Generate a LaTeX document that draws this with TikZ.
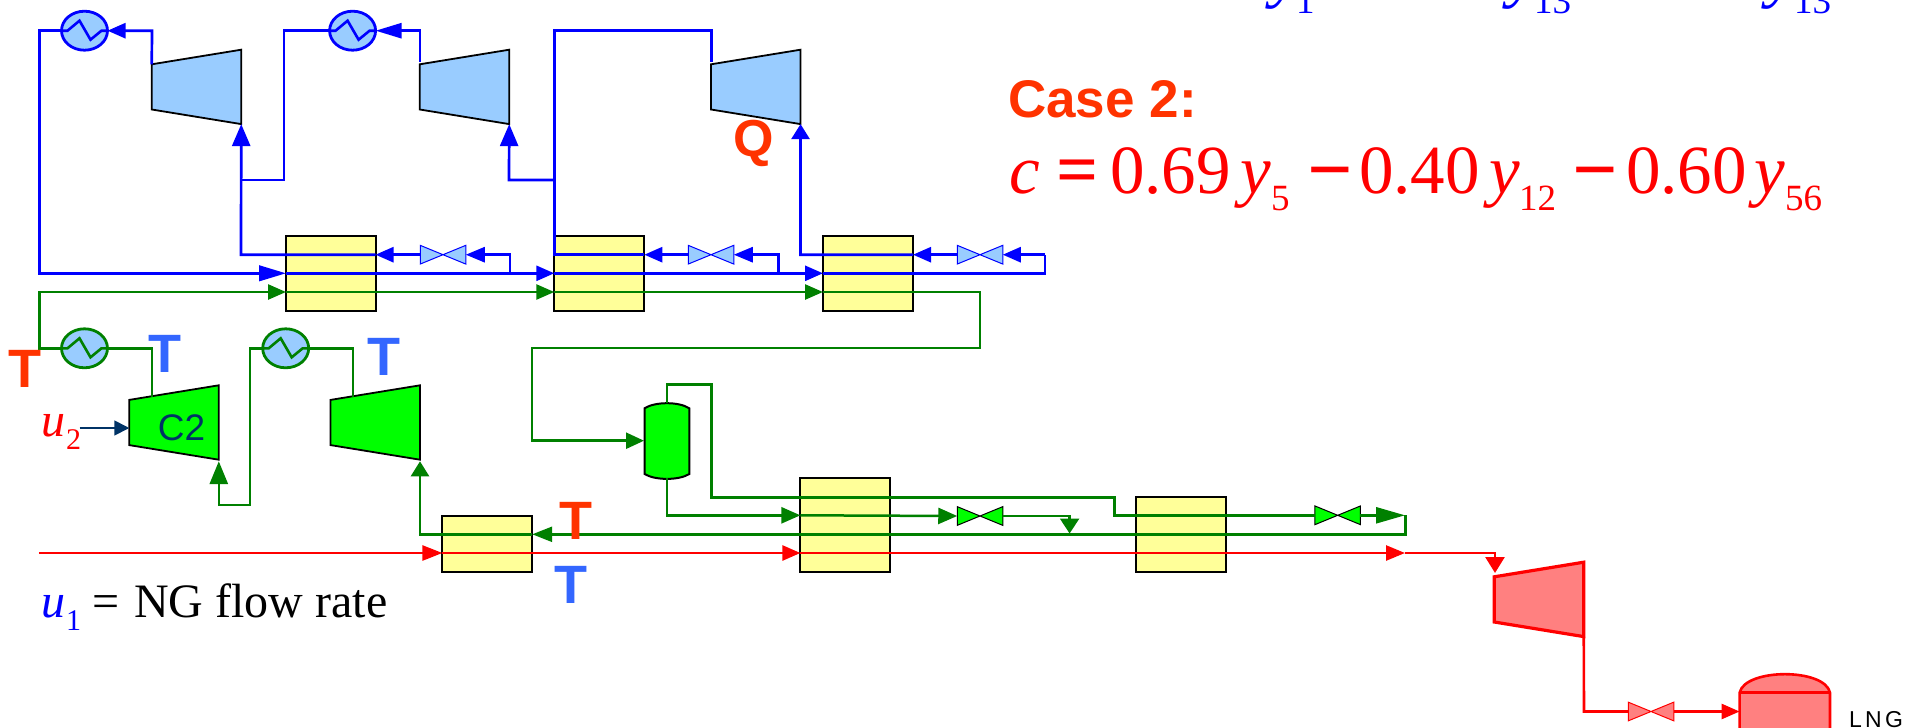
\documentclass[tikz,border=0pt]{standalone}
\usepackage{fontspec}
\setmainfont{Liberation Serif}
\newfontfamily\lsans{Liberation Sans}
\newfontfamily\lserif{Liberation Serif}
\usetikzlibrary{arrows.meta,shapes.geometric}
\definecolor{fgreen}{HTML}{008000}
\definecolor{fblue}{HTML}{0000FF}
\definecolor{fred}{HTML}{FF0000}
\definecolor{hxy}{HTML}{FFFF99}
\definecolor{lblue}{HTML}{99CCFF}
\definecolor{lime}{HTML}{00FF00}
\definecolor{pinkf}{HTML}{FF8080}
\definecolor{orng}{HTML}{FF3300}
\definecolor{tblue}{HTML}{3366FF}
\definecolor{navyb}{HTML}{003366}
\tikzset{
  ah/.style 2 args={-{Triangle[length=#1pt,width=#2pt]}},
  bl/.style={draw=fblue,line width=2.7pt,line join=miter},
  gr/.style={draw=fgreen,line width=2.5pt,line join=miter},
  rd/.style={draw=fred,line width=2.6pt,line join=miter},
  hx/.style={draw=black,fill=hxy,line width=2pt,inner sep=0pt,outer sep=0pt,minimum width=90pt},
  cooler/.style={ellipse,draw=#1,fill=lblue,line width=2.8pt,minimum width=46pt,minimum height=39pt,inner sep=0pt,outer sep=0pt},
  box/.style={inner sep=0pt,outer sep=0pt,minimum width=89.5pt,minimum height=74.4pt},
  vbox/.style={inner sep=0pt,outer sep=0pt,minimum width=45.5pt,minimum height=18.7pt},
  tl/.style={font=\fontsize{54}{60}\selectfont\lsans\bfseries,inner sep=0pt,anchor=base},
  eq/.style={font=\fontsize{69}{80}\selectfont\lserif,inner sep=0pt,anchor=base west,text=fred},
  eqop/.style={font=\fontsize{80}{90}\selectfont\lserif\bfseries,inner sep=0pt,anchor=base west,text=fred},
  eqs/.style={font=\fontsize{37}{40}\selectfont\lserif,inner sep=0pt,anchor=base west,text=fred},
  ul/.style={font=\fontsize{48}{54}\selectfont\lserif,inner sep=0pt,anchor=base west},
  uls/.style={font=\fontsize{30}{34}\selectfont\lserif,inner sep=0pt,anchor=base west},
}
\newcommand{\mkcomp}[6]{% name, x, y, fill, stroke, width
  \node[box] (#1) at (#2,#3) {};
  \draw[fill=#4,draw=#5,line width=#6,line join=miter]
    ([yshift=-14.6pt]#1.north west) -- (#1.north east) -- (#1.south east) -- ([yshift=14.6pt]#1.south west) -- cycle;}
\newcommand{\mkvalve}[6]{% name, x, y, fill, stroke, width
  \node[vbox] (#1) at (#2,#3) {};
  \draw[fill=#4,draw=#5,line width=#6,line join=miter]
    (#1.north west) -- (#1.south east) -- (#1.north east) -- (#1.south west) -- cycle;}
\newcommand{\mkzig}[2]{% cooler name, colour
  \draw[draw=#2,line width=2.6pt] ([xshift=-23pt]#1.center) -- ([xshift=-17pt]#1.center) -- ([xshift=-5pt,yshift=10pt]#1.center) -- ([xshift=6pt,yshift=-9pt]#1.center) -- ([xshift=17pt]#1.center) -- ([xshift=23pt]#1.center);}
\begin{document}
\begin{tikzpicture}[x=1pt,y=-1pt]
\useasboundingbox (0,0) rectangle (1909,728);
\clip (0,0) rectangle (1909,728);

% heat exchangers
\node[hx,minimum height=74.7pt] (hxa) at (330.7,273.3) {};
\node[hx,minimum height=74.7pt] (hxb) at (599.3,273.3) {};
\node[hx,minimum height=74.7pt] (hxc) at (868,273.3) {};
\node[hx,minimum height=56.3pt] (hxd) at (487.3,543.8) {};
\node[hx,minimum height=93.4pt] (hxe) at (845.4,525) {};
\node[hx,minimum height=74.7pt] (hxf) at (1180.8,534.3) {};

% named points
\coordinate (bl) at (39.6,273.3);
\coordinate (ctop) at (39.6,30.7);
\coordinate (gl) at (39.6,292);
\coordinate (gll) at (39.6,348.3);
\coordinate (ha1) at (286,254.7);
\coordinate (ha2) at (286,273.3);
\coordinate (ha3) at (286,292);
\coordinate (ha1e) at (375.5,254.7);
\coordinate (hb1) at (554.3,254.7);
\coordinate (hb2) at (554.3,273.3);
\coordinate (hb3) at (554.3,292);
\coordinate (hb1e) at (644.3,254.7);
\coordinate (hc1) at (800.4,254.7);
\coordinate (hc2) at (823,273.3);
\coordinate (hc3) at (823,292);
\coordinate (hc1w) at (823,254.7);
\coordinate (hc1e) at (913,254.7);
\coordinate (ja) at (241,180);
\coordinate (jb) at (284,180);
\coordinate (jc) at (509,180);
\coordinate (jd) at (554.3,180);
\coordinate (sa) at (510,273.3);
\coordinate (sa1) at (510,254.7);
\coordinate (sb) at (778.6,273.3);
\coordinate (sb1) at (778.6,254.7);
\coordinate (sc) at (1045,273.3);
\coordinate (sc1) at (1045,254.7);

% coolers
\node[cooler=fblue] (ca) at (84.5,30.7) {};
\node[cooler=fblue] (cb) at (352.6,30.7) {};
\node[cooler=fgreen] (cc) at (84.5,348.3) {};
\node[cooler=fgreen] (cd) at (285.7,348.3) {};
\mkzig{ca}{fblue}\mkzig{cb}{fblue}\mkzig{cc}{fgreen}\mkzig{cd}{fgreen}

% compressors
\mkcomp{ka}{196.5}{86.9}{lblue}{black}{1.8pt}
\mkcomp{kb}{464.5}{86.9}{lblue}{black}{1.8pt}
\mkcomp{kc}{755.8}{86.9}{lblue}{black}{1.8pt}
\mkcomp{kd}{174}{422.5}{lime}{black}{1.8pt}
\mkcomp{ke}{375.3}{422.5}{lime}{black}{1.8pt}
\mkcomp{kf}{1539}{599.4}{pinkf}{fred}{3.2pt}

% valves
\mkvalve{va}{443}{254.7}{lblue}{fblue}{1pt}
\mkvalve{vb}{711}{254.7}{lblue}{fblue}{1pt}
\mkvalve{vc}{980}{254.7}{lblue}{fblue}{1pt}
\mkvalve{vd}{980}{516}{lime}{black}{1pt}
\mkvalve{ve}{1337.7}{515.3}{lime}{black}{1pt}
\mkvalve{vf}{1651}{711.5}{pinkf}{fred}{1pt}

% blue streams
\draw[bl,ah={27}{15.5}] (ca.west) -- (ctop) -- (bl) -- (ha2);
\draw[bl,ah={18}{15}] (ha2) -- (hb2);
\draw[bl,ah={18}{15}] (hb2) -- (hc2);
\draw[bl] (hc2) -- (sc) -- (sc1);
\draw[bl,ah={18}{15}] (sc1) -- (vc.east);
\draw[bl,ah={18}{15}] (vc.west) -- (hc1e);
\draw[bl,ah={19}{15}] (sa) -- (sa1) -- (va.east);
\draw[bl,ah={18}{15}] (va.west) -- (ha1e);
\draw[bl,ah={19}{15}] (sb) -- (sb1) -- (vb.east);
\draw[bl,ah={18}{15}] (vb.west) -- (hb1e);
\draw[bl,ah={22}{18}] (ha1e) -- (241,254.7) -- (ka.south east);
\draw[bl] (ja) -- (jb) -- (284,30.7) -- (cb.west);
\draw[bl,ah={18}{15}] (ka.north west |- 0,64.3) -- (152,30.7) -- (ca.east);
\draw[bl,ah={26}{15}] (420,62) -- (420,30.7) -- (cb.east);
\draw[bl] (hb1e) -- (554.3,254.7) -- (554.3,30.7) -- (711.3,30.7) -- (711.3,62);
\draw[bl,ah={22}{18}] (jd) -- (jc) -- (kb.south east);
\draw[bl,ah={15}{18}] (hc1e) -- (hc1) -- (kc.south east);

% green streams
\draw[gr,ah={18}{15}] (cc.west) -- (gll) -- (gl) -- (ha3);
\draw[gr,ah={18}{15}] (ha3) -- (hb3);
\draw[gr,ah={18}{15}] (hb3) -- (hc3);
\draw[gr,ah={18}{16}] (hc3) -- (980,292) -- (980,348) -- (531.8,348) -- (531.8,440.7) -- (644,440.7);
\draw[gr] (cc.east) -- (151.8,348.3) -- (151.8,397);
\draw[gr] (cd.east) -- (353,348.3) -- (353,397);
\draw[gr,ah={22.7}{18}] (cd.west) -- (250.2,348.3) -- (250.2,505) -- (218.8,505) -- (218.8,461.3);
\node[inner sep=0pt,outer sep=0pt,minimum width=44.7pt,minimum height=75pt] (drum) at (667,440.8) {};
\draw[fill=lime,draw=black,line width=2pt] (644.6,408.3) .. controls (655,401.5) and (679,401.5) .. (689.3,408.3) -- (689.3,474) .. controls (679,480.5) and (655,480.5) .. (644.6,474) -- cycle;
\draw[gr] (drum.north) -- (667,384.7) -- (711.6,384.7) -- (711.6,497.3) -- (1114.3,497.3) -- (1114.3,515.3) -- (ve.west);
\draw[gr,ah={19}{16}] (drum.south) -- (667,515.3) -- (800.4,515.3);
\draw[gr,ah={19}{16}] (800.4,515.3) -- (vd.west);
\draw[gr,ah={15}{19}] (vd.east) -- (1069.6,516) -- (1069.6,533.5);
\draw[gr,ah={29}{16}] (ve.east) -- (1405,515.3);
\draw[gr,ah={20}{15}] (1405.6,515.3) -- (1405.6,534.3) -- (532.2,534.3);
\draw[gr,ah={15}{18}] (532.2,534.3) -- (420,534.3) -- (420,461.3);

% red streams
\draw[rd,ah={20}{15}] (38.8,553) -- (442.4,553);
\draw[rd,ah={18}{15}] (442.4,553) -- (800.4,553);
\draw[rd,ah={19}{15}] (800.4,553) -- (1405,553);
\draw[rd,ah={16}{19}] (1405,553) -- (1495,553) -- (1495,573);
\draw[rd] (kf.south east) -- (1584,711.5) -- (vf.west);
\node[inner sep=0pt,outer sep=0pt,minimum width=90.4pt,minimum height=54pt] (tank) at (1784.8,701) {};
\draw[rd,fill=pinkf] (1739.6,692.7) .. controls (1745,668) and (1825,668) .. (1830,692.7) -- (1830,745) -- (1739.6,745) -- cycle;
\draw[rd] (1739.6,692.7) -- (1830,692.7);
\draw[rd,ah={18}{15}] (vf.east) -- (1739.6,711.5);

% u2 arrow
\coordinate (ustart) at (79.6,428);
\draw[draw=navyb,line width=1.8pt,ah={15}{15}] (ustart) -- (kd.west |- ustart) ;

% text
\node[inner sep=0pt,anchor=center,text=navyb,font=\fontsize{37}{40}\selectfont\lsans] (ctwo) at (181.6,428) {C2};
\node[tl,text=orng] (t1) at (25,387.7) {T};
\node[tl,text=tblue] (t2) at (164.5,372.3) {T};
\node[tl,text=tblue] (t3) at (384,375.3) {T};
\node[tl,text=orng] (t4) at (575.5,539) {T};
\node[tl,text=tblue] (t5) at (571,603) {T};
\node[tl,text=orng,font=\fontsize{52}{60}\selectfont\lsans\bfseries] (q) at (753.5,156) {Q};
\node[tl,anchor=base west,text=orng,font=\fontsize{53}{60}\selectfont\lsans\bfseries] (case) at (1008,117) {Case 2:};

\node[eq] (e1) at (1009,193.3) {\itshape c};
\node[eq,font=\fontsize{74}{80}\selectfont\lserif\bfseries] (e2) at (1056,194.5) {=};
\node[eq] (e3) at (1110,193.3) {0.69};
\node[eq] (e4) at (1240,193.3) {\itshape y};
\node[eqs] (e5) at (1271,210.7) {5};
\node[eqop] (e6) at (1307,196.7) {−};
\node[eq] (e7) at (1359,193.3) {0.40};
\node[eq] (e8) at (1489,193.3) {\itshape y};
\node[eqs] (e9) at (1519,210.7) {12};
\node[eqop] (e10) at (1572,196.7) {−};
\node[eq] (e11) at (1626,193.3) {0.60};
\node[eq] (e12) at (1754,193.3) {\itshape y};
\node[eqs] (e13) at (1785,210.7) {56};

\node[eq,text=fblue] (b1) at (1271,-5.7) {\itshape y};
\node[eqs,text=fblue] (b2) at (1296,13) {1};
\node[eq,text=fblue] (b3) at (1508,-5.7) {\itshape y};
\node[eqs,text=fblue] (b4) at (1534,13) {13};
\node[eq,text=fblue] (b5) at (1767,-5.7) {\itshape y};
\node[eqs,text=fblue] (b6) at (1794,13) {13};

\node[ul,text=fred] (u2) at (41,436.7) {\itshape u};
\node[uls,text=fred] (u2s) at (66,449) {2};
\node[ul,text=fblue] (u1) at (41,617.7) {\itshape u};
\node[uls,text=fblue] (u1s) at (66,630.7) {1};
\node[ul] (ng1) at (92,617.7) {=};
\node[ul] (ng2) at (134,617.7) {NG flow rate};
\node[inner sep=0pt,anchor=base west,font=\fontsize{23}{26}\selectfont\lsans] (lng) at (1849,727) {\addfontfeature{LetterSpace=14}LNG};
\end{tikzpicture}
\end{document}
